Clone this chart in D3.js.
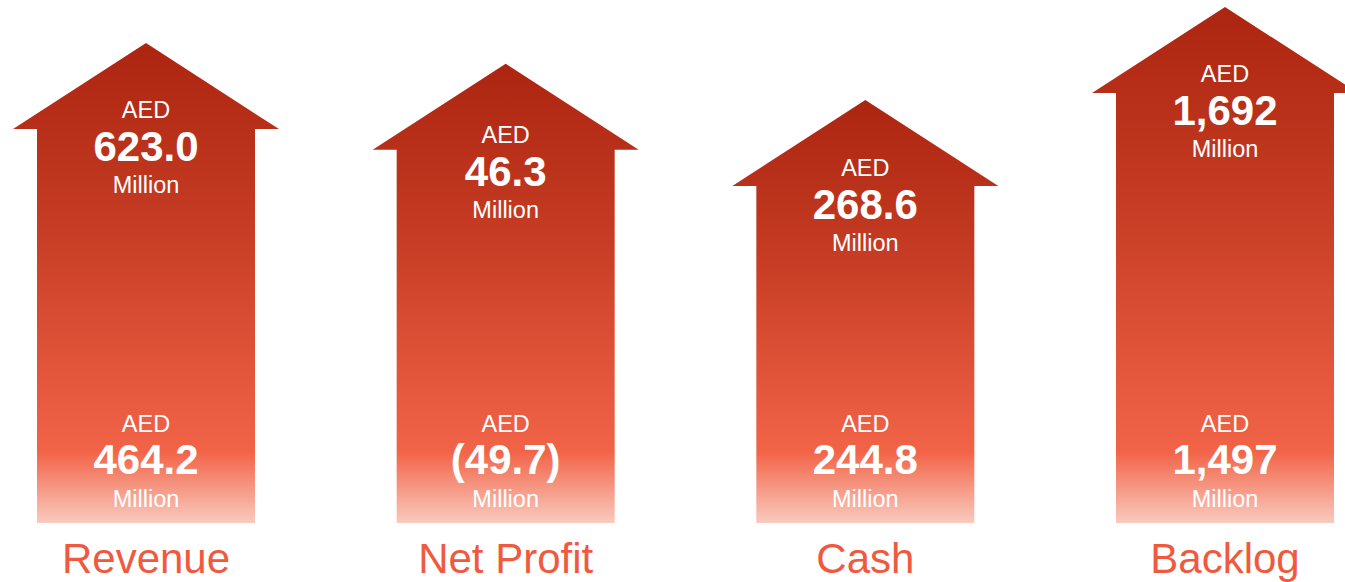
<!DOCTYPE html>
<html>
<head>
<meta charset="utf-8">
<script src="https://cdn.jsdelivr.net/npm/d3@7"></script>
<style>
  html, body { margin: 0; padding: 0; background: #fff; }
  svg { display: block; font-family: "Liberation Sans", Arial, sans-serif; }
</style>
</head>
<body>
<div id="chart"></div>
<script>
// data
const categories = ['Revenue', 'Net Profit', 'Cash', 'Backlog'];
const currentValues = ['623.0', '46.3', '268.6', '1,692'];
const priorValues = ['464.2', '(49.7)', '244.8', '1,497'];
const arrowLevel = [93, 89, 82, 100]; // relative height of each arrow
const unitTop = 'AED';
const unitBottom = 'Million';

const width = 1345;
const height = 582;
const base = 523;
const textNudge = [0, 4, 1, 0]; // small hand offsets of the head text

const svg = d3.select('#chart').append('svg')
  .attr('width', width)
  .attr('height', height);

const x = d3.scalePoint()
  .domain(categories)
  .range([146, 1225]);

const y = d3.scaleLinear()
  .domain([0, 100])
  .range([base, 7]);

const headW = 133;
const shaftW = 109;
const headH = 86;

const rows = categories.map((c, i) => ({
  cat: c, cur: currentValues[i], prev: priorValues[i], level: arrowLevel[i], i
}));

// one gradient per arrow, so every arrow starts dark at its own tip
const defs = svg.append('defs');
rows.forEach((d) => {
  const tip = y(d.level);
  const bright = (452 - tip) / (base - tip);
  const g = defs.append('linearGradient')
    .attr('id', `grad${d.i}`)
    .attr('gradientUnits', 'userSpaceOnUse')
    .attr('x1', 0).attr('x2', 0)
    .attr('y1', tip).attr('y2', base);
  g.append('stop').attr('offset', 0).attr('stop-color', '#AC2510');
  g.append('stop').attr('offset', bright * 0.45).attr('stop-color', '#C63C24');
  g.append('stop').attr('offset', bright).attr('stop-color', '#F26448');
  g.append('stop').attr('offset', 1).attr('stop-color', '#F9CABE');
});

const arrow = svg.selectAll('.arrow')
  .data(rows)
  .enter().append('g')
  .attr('class', 'arrow');

arrow.append('path')
  .attr('fill', (d) => `url(#grad${d.i})`)
  .attr('d', (d) => {
    const cx = x(d.cat);
    const tip = y(d.level);
    const hb = tip + headH;
    return `M${cx},${tip} L${cx + headW},${hb} L${cx + shaftW},${hb} L${cx + shaftW},${base}`
      + ` L${cx - shaftW},${base} L${cx - shaftW},${hb} L${cx - headW},${hb} Z`;
  });

// current value block under the arrow head
const topBlock = (sel, dy, size, weight, txt) => {
  sel.append('text')
    .attr('x', (d) => x(d.cat))
    .attr('y', (d) => y(d.level) + headH + dy + textNudge[d.i])
    .attr('text-anchor', 'middle')
    .attr('fill', '#fff')
    .attr('font-size', size)
    .attr('font-weight', weight)
    .text(txt);
};
topBlock(arrow, -11, 23.5, 'normal', unitTop);
topBlock(arrow, 32, 42, 'bold', (d) => d.cur);
topBlock(arrow, 64, 23.5, 'normal', unitBottom);

// prior value block near the bottom
const bottomBlock = (sel, yy, size, weight, txt) => {
  sel.append('text')
    .attr('x', (d) => x(d.cat))
    .attr('y', yy)
    .attr('text-anchor', 'middle')
    .attr('fill', '#fff')
    .attr('font-size', size)
    .attr('font-weight', weight)
    .text(txt);
};
bottomBlock(arrow, 432, 23.5, 'normal', unitTop);
bottomBlock(arrow, 474, 42, 'bold', (d) => d.prev);
bottomBlock(arrow, 507, 23.5, 'normal', unitBottom);

// category labels
arrow.append('text')
  .attr('x', (d) => x(d.cat))
  .attr('y', 573)
  .attr('text-anchor', 'middle')
  .attr('fill', '#EF5A3F')
  .attr('font-size', 42)
  .text((d) => d.cat);
</script>
</body>
</html>
